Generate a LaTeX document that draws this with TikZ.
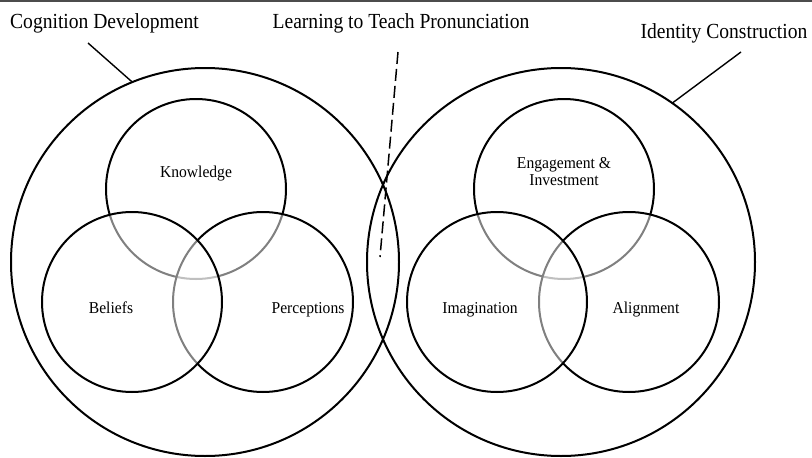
\documentclass[tikz,border=0pt]{standalone}
\usepackage{fontspec}
\setmainfont{Liberation Serif}
\begin{document}
\begin{tikzpicture}[x=1pt,y=-1pt,
  outer/.style={circle,draw,line width=2pt,inner sep=0pt,outer sep=0pt,minimum size=388pt},
  part/.style={circle,draw,line width=2pt,inner sep=0pt,outer sep=0pt,minimum size=180pt,fill=white,fill opacity=0.5},
  heading/.style={font=\fontsize{21.5}{24}\selectfont,anchor=base,inner sep=0pt,xscale=0.91},
  partname/.style={font=\fontsize{16.6}{17}\selectfont,anchor=base,inner sep=0pt,align=center,xscale=0.94},
  leader/.style={line width=1.4pt},
]
\useasboundingbox (0,0) rectangle (812,458);
% top rule
\draw[line width=2pt,color=black!70] (0,1) -- (812,1);

% the two domains
\node[outer] (cog) at (205,262) {};
\node[outer] (ident) at (561,262) {};

% cognition: knowledge, perceptions, beliefs
\node[part] (know) at (196,189) {};
\node[part] (perc) at (263,302) {};
\node[part] (beli) at (132,302) {};

% identity: engagement, alignment, imagination
\node[part] (enga) at (564,189) {};
\node[part] (alig) at (629,302) {};
\node[part] (imag) at (497,302) {};

% headings
\node[heading,anchor=base west] (cogT) at (10,28) {Cognition Development};
\node[heading] (learnT) at (401,28) {Learning to Teach Pronunciation};
\node[heading] (identT) at (724,38) {Identity Construction};

% part names
\node[partname] (knowT) at (196,177) {Knowledge};
\node[partname] (beliT) at (111,313) {Beliefs};
\node[partname] (percT) at (308,313) {Perceptions};
\node[partname,anchor=north] (engaT) at (564,157) {Engagement \&\\Investment};
\node[partname] (imagT) at (480,313) {Imagination};
\node[partname] (aligT) at (646,313) {Alignment};

% leaders
\coordinate (cogTip) at (88,43);
\coordinate (identTip) at (741,52);
\draw[leader] (cogTip) -- (cog.112.7);
\draw[leader] (identTip) -- (ident.55.3);

% boundary between the two domains
\coordinate (dashTop) at (398,52);
\coordinate (dashBot) at (380,257);
\draw[line width=1.5pt,dash pattern=on 12pt off 5pt] (dashTop) -- (dashBot);
\end{tikzpicture}
\end{document}
